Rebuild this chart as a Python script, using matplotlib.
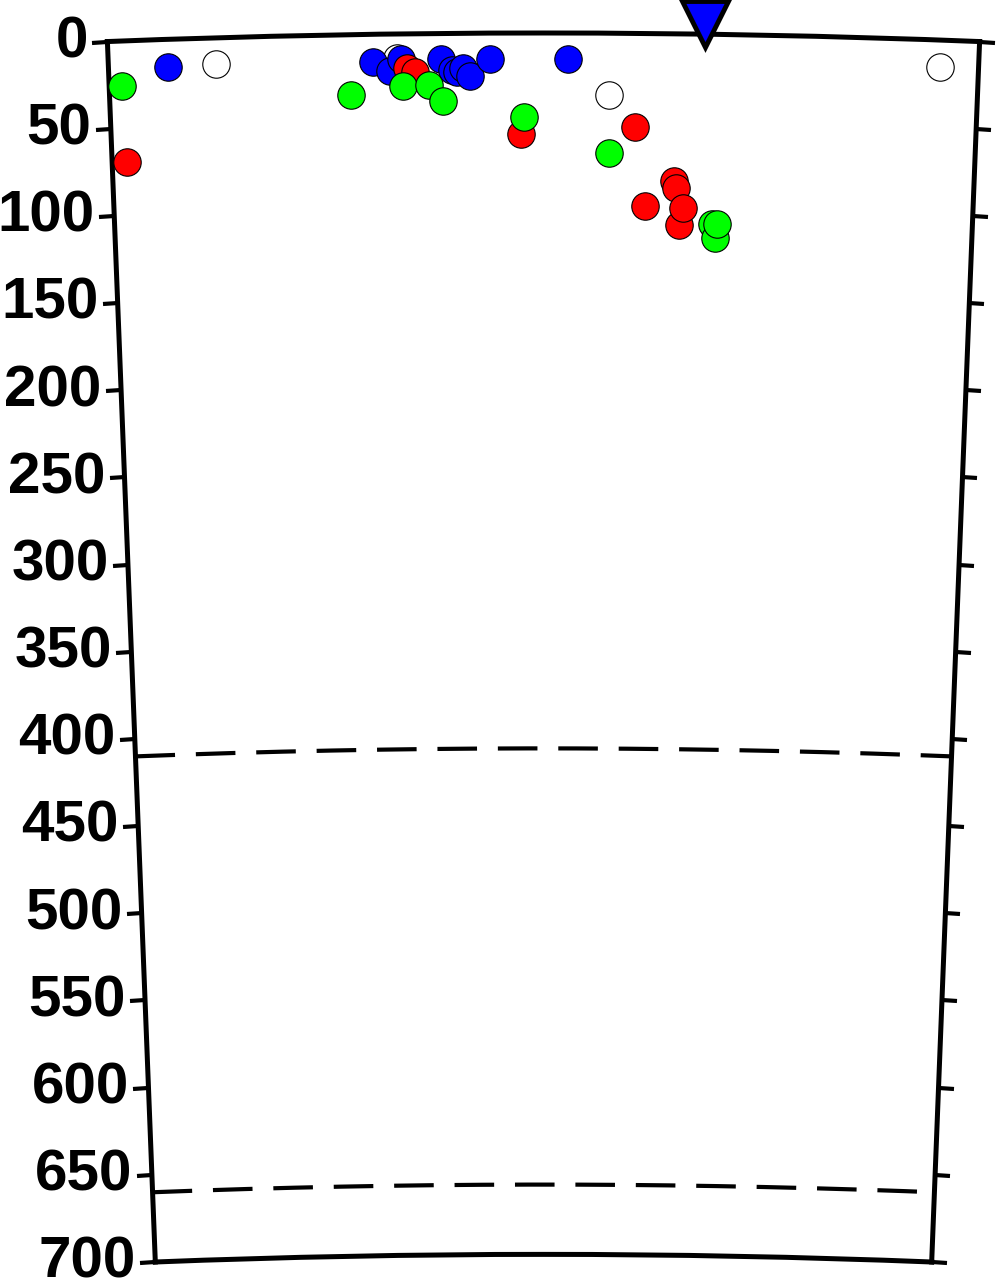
import numpy as np
import matplotlib
matplotlib.use("Agg")
import matplotlib.pyplot as plt

plt.rcParams["font.family"] = ["Liberation Sans", "DejaVu Sans"]
plt.rcParams["font.weight"] = "bold"

# ---------------- data ----------------
EARTH_R = 6371.0           # km
PROFILE_LEN = 500.0        # km along the surface
MAX_DEPTH = 700.0          # km

depth_ticks = [0, 50, 100, 150, 200, 250, 300, 350, 400, 450, 500, 550, 600, 650, 700]
discontinuities = [410, 660]

# (distance along profile km, depth km)
white_dist = [62, 166, 288, 478]
white_depth = [14.8, 14.0, 35.2, 15.2]

blue_dist = [34, 152, 162, 168, 191, 197.5, 200, 204, 208, 219, 264]
blue_depth = [15.6, 15.7, 20.9, 14.1, 14.6, 20.8, 22.0, 19.8, 24.4, 14.6, 14.7]

red_dist = [8.5, 171.7, 176, 237, 303, 326, 327, 329, 331, 309]
red_depth = [69.3, 19.6, 22.0, 57.6, 53.5, 84.2, 88.2, 109.4, 99.6, 98.8]

green_dist = [7.3, 139, 169, 184, 192, 239, 288, 348, 350, 351]
green_depth = [25.6, 34.3, 29.6, 29.6, 38.9, 47.9, 68.5, 108.5, 116.5, 108.5]

station_dist = [342.6]
station_depth = [-6.0]

# ---------------- helpers ----------------
def to_theta(d):
    return (np.asarray(d, float) - PROFILE_LEN / 2) / EARTH_R

def to_r(z):
    return EARTH_R - np.asarray(z, float)

# ---------------- figure ----------------
W, H = 1001, 1287
fig = plt.figure(figsize=(W / 100, H / 100), dpi=100)
side = 1229.0
cx, cy = 543.5, (33 + 1262) / 2.0
ax = fig.add_axes([(cx - side / 2) / W, (H - cy - side / 2) / H, side / W, side / H],
                  projection="polar")
ax.set_theta_zero_location("N")
ax.set_theta_direction(-1)
half = np.degrees(PROFILE_LEN / 2 / EARTH_R)
ax.set_thetamin(-half)
ax.set_thetamax(half)
ax.set_rorigin(0)
ax.set_rlim(EARTH_R - MAX_DEPTH, EARTH_R)
ax.grid(False)
ax.set_xticks([])
ax.set_yticks(to_r(depth_ticks))
ax.set_yticklabels([str(t) for t in depth_ticks], fontsize=42, fontweight="bold",
                   fontfamily="Liberation Sans")
ax.tick_params(axis="y", which="major", direction="out", length=11, width=3,
               left=True, right=True, labelleft=True, labelright=False, pad=3,
               labelsize=42)
for sp in ax.spines.values():
    sp.set_linewidth(3.6)
    sp.set_color("black")

th = np.linspace(-PROFILE_LEN / 2 / EARTH_R, PROFILE_LEN / 2 / EARTH_R, 400)
for z in discontinuities:
    ax.plot(th, np.full_like(th, to_r(z)), color="black", lw=3.0,
            dashes=(9.5, 5), zorder=2)

kw = dict(s=390, edgecolors="black", linewidths=0.8, zorder=3, clip_on=False)
ax.scatter(to_theta(white_dist), to_r(white_depth), c="white", **kw)
ax.scatter(to_theta(blue_dist), to_r(blue_depth), c="#0000ff", **kw)
ax.scatter(to_theta(red_dist), to_r(red_depth), c="#ff0000", **kw)
ax.scatter(to_theta(green_dist), to_r(green_depth), c="#00ff00", **kw)

ax.plot(to_theta(station_dist), to_r(station_depth), marker="v", ms=33,
        color="#0000ff", mec="black", mew=3.5, ls="none", clip_on=False, zorder=5)

fig.savefig("out.png", dpi=100)
